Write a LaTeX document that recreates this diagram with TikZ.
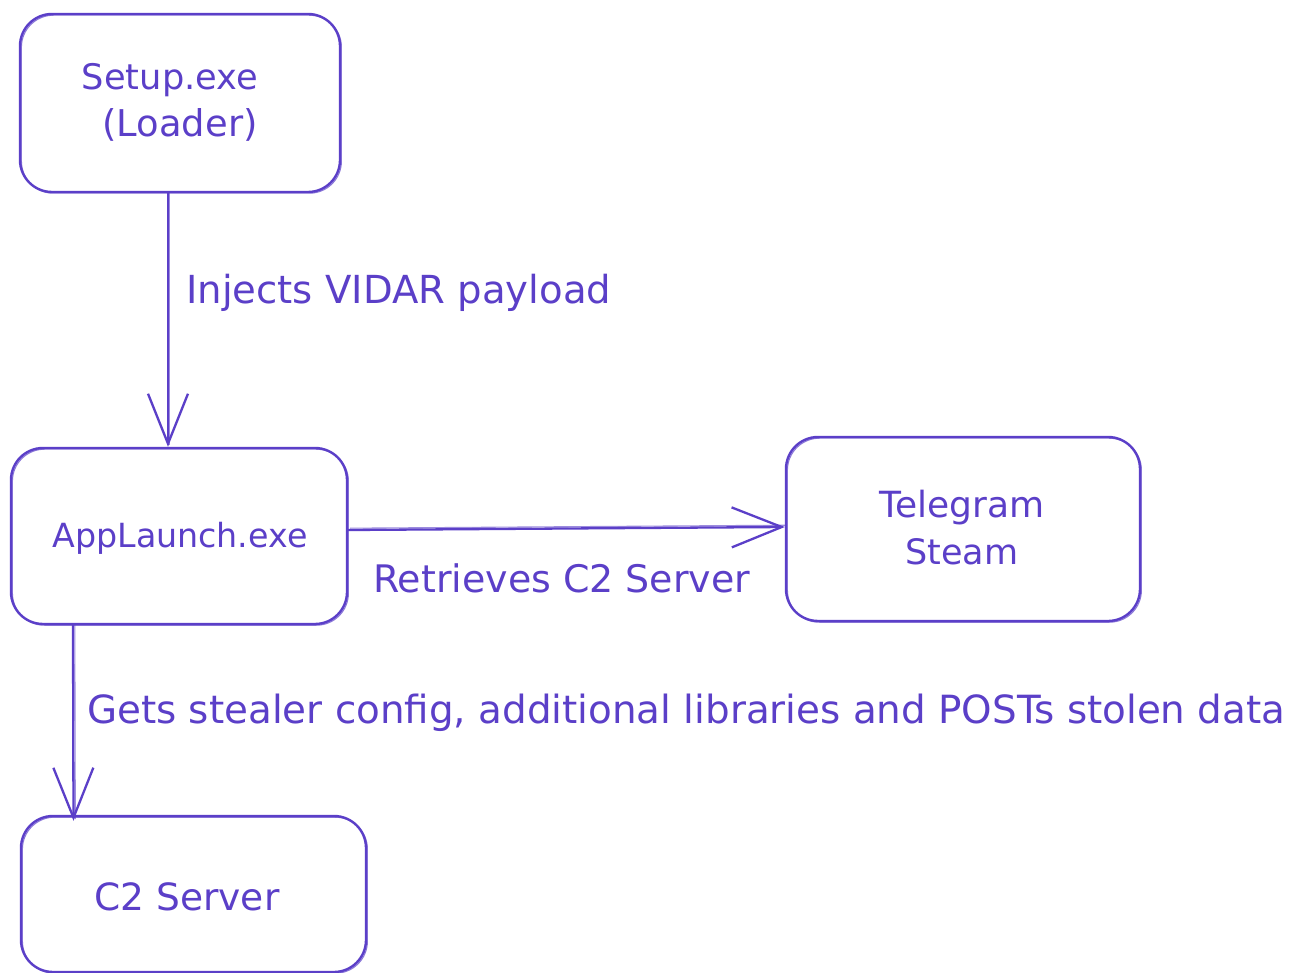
\documentclass[tikz,border=0pt]{standalone}
\usepackage{fontspec}
\setmainfont{DejaVu Sans}
\usetikzlibrary{arrows.meta}
\definecolor{ink}{HTML}{5B3FC8}
\newcommand{\fitw}[2]{\resizebox{#1pt}{!}{#2}}
\begin{document}
\begin{tikzpicture}[x=1pt,y=-1pt,
  box/.style={draw=ink, line width=2.4pt, rounded corners=32pt, rectangle, inner sep=0pt, text=ink,
     postaction={draw=ink, line width=1.1pt, opacity=0.7, transform canvas={shift={(1.4pt,-1.2pt)}}}},
  conn/.style={draw=ink, line width=2.3pt, -{Straight Barb[length=50pt,width=40pt,line width=2.3pt]},
     postaction={draw=ink, line width=1.1pt, opacity=0.6, -, transform canvas={shift={(1.8pt,1.8pt)}}}},
  lbl/.style={text=ink, inner sep=0pt, anchor=west}]
\useasboundingbox[fill=white] (0,0) rectangle (1291,973);
\begin{scope}
\clip (0,0) rectangle (1291,973);
\node[box, minimum width=320pt, minimum height=178pt] (setup) at (180,103) {};
\node[box, minimum width=336pt, minimum height=176pt] (app) at (179,536) {};
\node[box, minimum width=354pt, minimum height=184pt] (tele) at (963,529) {};
\node[box, minimum width=345pt, minimum height=156pt] (c2) at (193.5,894) {};
\end{scope}
\node[text=ink, inner sep=0pt] (t1) at (170,80) {\fitw{176}{Setup.exe}};
\node[text=ink, inner sep=0pt] (t2) at (180,125) {\fitw{155}{(Loader)}};
\node[text=ink, inner sep=0pt] (t3) at (180,538) {\fitw{255}{AppLaunch.exe}};
\node[text=ink, inner sep=0pt] (t4) at (962,508) {\fitw{165}{Telegram}};
\node[text=ink, inner sep=0pt] (t5) at (962,552) {\fitw{113}{Steam}};
\node[text=ink, inner sep=0pt] (t6) at (187,897) {\fitw{185}{C2 Server}};
\draw[conn] ([xshift=-12pt]setup.south) -- ([xshift=-11pt]app.north);
\draw[conn] ([yshift=6pt]app.east) -- ([yshift=2pt]tele.west);
\draw[conn] ([xshift=-106pt]app.south) -- ([xshift=-120pt,yshift=-6pt]c2.north);
\node[lbl] (l1) at (186,293) {\fitw{425}{Injects VIDAR payload}};
\node[lbl] (l2) at (373,578) {\fitw{377}{Retrieves C2 Server}};
\node[lbl] (l3) at (87,713) {\fitw{1198}{Gets stealer config, additional libraries and POSTs stolen data}};
\end{tikzpicture}
\end{document}
